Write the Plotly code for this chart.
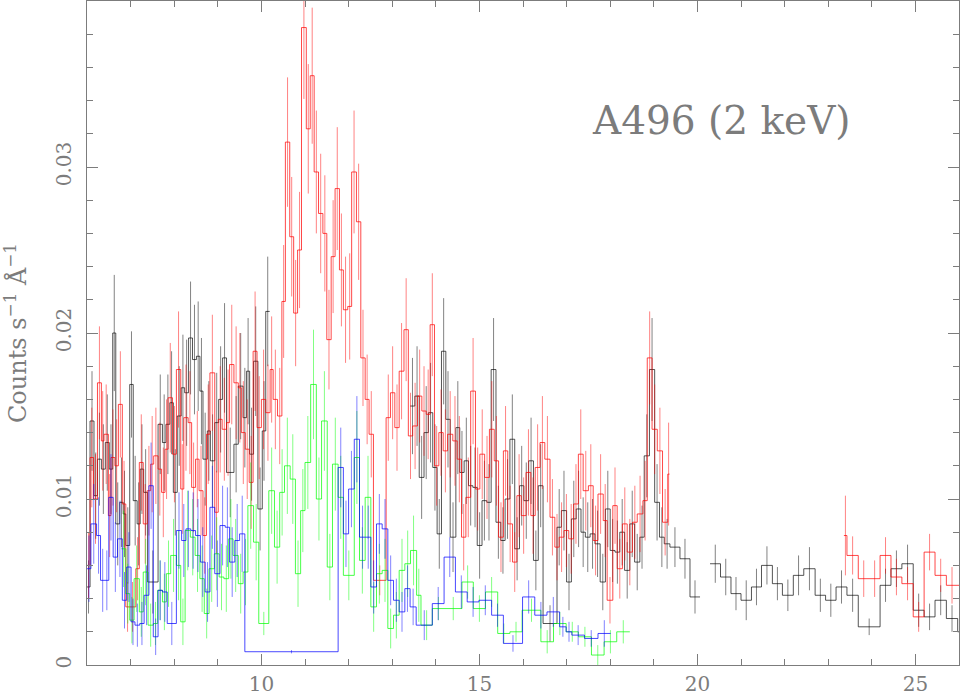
"""A496 (2 keV) spectrum: counts per second per Angstrom, four instruments."""
import plotly.graph_objects as go

black_edges = [
    6.00, 6.07, 6.16, 6.24, 6.33, 6.42, 6.51, 6.59, 6.66, 6.75, 6.83, 6.89, 6.98, 7.06, 7.15, 7.22, 7.30, 7.39, 7.63,
    7.73, 7.81, 7.90, 7.98, 8.07, 8.16, 8.24, 8.33, 8.42, 8.51, 8.59, 8.66, 8.76, 8.83, 8.93, 9.02, 9.11, 9.20,
    9.37, 9.47, 9.58, 9.66, 9.73, 9.82, 9.92, 10.02, 10.10, 10.19,
    13.41,
    13.52, 13.62, 13.73, 13.83, 13.93, 14.03, 14.13, 14.23, 14.33,
    14.46, 14.55, 14.65, 14.75, 14.85, 14.95, 15.06, 15.17, 15.27, 15.38,
    15.49, 15.59, 15.70, 15.81, 15.92, 16.02, 16.13, 16.24, 16.35, 16.46,
    16.78, 16.88, 17.00, 17.11, 17.22, 17.33, 17.43, 17.54, 17.65, 17.77,
    17.89, 18.00, 18.11, 18.22, 18.33, 18.45, 18.56, 18.68, 18.78, 18.90,
    19.02, 19.13, 19.24, 19.37, 19.60, 19.83, 20.06,
    20.29,
    20.53, 20.77, 21.00, 21.24, 21.47, 21.72, 21.95, 22.20, 22.44, 22.70,
    22.94, 23.18, 23.43, 23.69, 24.19, 24.44, 24.69, 24.95, 25.20, 25.45,
    25.71, 25.97, 26.2,
]
black_vals = [
    .0047, .0147, .0102, .0124, .0118, .0134, .0118, .0200, .0085, .0098, .0091, .0072, .0169, .0099, .0085, .0118, .0104, .0050,
    .0145, .0134, .0145, .0158, .0104, .0150, .0167, .0164, .0197, .0184, .0186, .0165, .0124, .0141, .0123, .0146, .0160, .0185,
    .0116, .0133, .0168, .0149, .0177, .0127, .0183, .0094, .0141, .0213,
    None,
    .0156, .0162, .0113, .0140, .0152, .0119, .0079, .0189, .0148,
    .0077, .0143, .0116, .0123, .0108, .0107, .0072, .0099, .0098, .0178,
    .0086, .0075, .0100, .0136, .0070, .0108, .0099, .0123, .0063, .0108,
    .0025, .0083, .0093, .0050, .0088, .0094, .0080, .0077, .0079, .0073,
    .0050, .0094, .0069, .0068, .0080, .0057, .0085, .0062, .0077, .0126,
    .0178, .0098, .0077, .0073, .0071, .0064, .0041,
    None,
    .0061, .0053, .0043, .0039, .0047, .0060, .0049, .0042, .0054, .0058,
    .0042, .0039, .0047, .0042, .0023, .0048, .0058, .0061, .0033, .0029,
    .0039, .0028, .0020,
]
black_errs = [
    .0016, .0030, .0026, .0028, .0027, .0029, .0027, .0035, .0025, .0027, .0026, .0023, .0032, .0027, .0025, .0027, .0026, .0019,
    .0030, .0029, .0030, .0031, .0026, .0030, .0032, .0032, .0034, .0033, .0033, .0032, .0028, .0030, .0028, .0030, .0032, .0033,
    .0027, .0029, .0032, .0030, .0032, .0028, .0033, .0025, .0030, .0033,
    None,
    .0029, .0030, .0025, .0028, .0030, .0026, .0021, .0032, .0029,
    .0021, .0028, .0025, .0026, .0024, .0024, .0020, .0024, .0023, .0031,
    .0022, .0020, .0024, .0027, .0019, .0024, .0023, .0026, .0018, .0025,
    .0011, .0023, .0024, .0017, .0023, .0023, .0021, .0021, .0021, .0020,
    .0017, .0023, .0019, .0019, .0020, .0017, .0020, .0017, .0019, .0025,
    .0031, .0023, .0018, .0015, .0012, .0012, .0010,
    None,
    .00115, .0011, .0010, .0012, .0011, .00115, .0010, .00095, .0012, .0013,
    .0010, .0010, .0010, .0010, .0005, .0010, .0011, .00115, .0010, .0008,
    .0009, .0008, .0008,
]

red_edges = [
    6.00, 6.07, 6.15, 6.24, 6.33, 6.39, 6.49, 6.55, 6.64, 6.72, 6.81, 6.89, 6.97, 7.12, 7.20, 7.29, 7.38, 7.46, 7.53, 7.63,
    7.71, 7.79, 7.86, 7.96, 8.05, 8.15, 8.22, 8.32, 8.40, 8.49, 8.57, 8.66, 8.74, 8.82, 8.93, 9.01, 9.10, 9.20, 9.27, 9.37,
    9.47, 9.54, 9.63, 9.72, 9.81, 9.90, 10.00,
    10.10, 10.20, 10.27, 10.37, 10.47, 10.55, 10.65, 10.74, 10.83, 10.92,
    11.03, 11.12, 11.21, 11.31, 11.41, 11.50, 11.60, 11.69, 11.79, 11.88,
    11.98, 12.07, 12.18, 12.28, 12.38, 12.47, 12.57, 12.86, 12.96, 13.06,
    13.16, 13.27, 13.37, 13.47, 13.58, 13.68, 13.78, 13.87, 13.97, 14.07,
    14.17, 14.27, 14.39,
    14.49, 14.59, 14.69, 14.80, 14.91, 15.01, 15.12, 15.23, 15.34, 15.44,
    15.55, 15.65, 15.76, 15.86, 15.96, 16.07, 16.18, 16.28, 16.39, 16.50,
    16.62, 16.73, 16.83, 16.94, 17.05, 17.16, 17.27, 17.38, 17.50, 17.61,
    17.72, 17.84, 17.93, 18.06, 18.16, 18.28, 18.39, 18.51, 18.62, 18.75,
    18.85, 18.96, 19.08, 19.20, 19.32, 19.36,
    23.36,
    23.43, 23.69, 23.94, 24.19, 24.44, 24.69, 24.95, 25.20, 25.45, 25.71, 25.97, 26.2,
]
red_vals = [
    .0060, .0125, .0100, .0170, .0135, .0139, .0090, .0125, .0120, .0157,
    .0097, .0035, .0035, .0058, .0122, .0085, .0105, .0121, .0126, .0118,
    .0104, .0130, .0161, .0127, .0178, .0106, .0149, .0146, .0107, .0124,
    .0105, .0078, .0139, .0176, .0092, .0148, .0142, .0146, .0181, .0170,
    .0167, .0140, .0130, .0110, .0189, .0143,
    .0160, .0152, .0178, .0160, .0150, .0219, .0315, .0258, .0212, .0250,
    .0384, .0323, .0355, .0297, .0272, .0260, .0196, .0246, .0287, .0238,
    .0214, .0216, .0297, .0267, .0185, .0160, .0139, .0051, .0149, .0164,
    .0143, .0177, .0202, .0138, .0144, .0162, .0153, .0151, .0205, .0120,
    .0140, .0129, .0139,
    .0135, .0124, .0077, .0101, .0165, .0106, .0127, .0113, .0142, .0123,
    .0077, .0129, .0085, .0062, .0102, .0090, .0116, .0090, .0119, .0134,
    .0124, .0089, .0071, .0077, .0081, .0076, .0097, .0127, .0105, .0108,
    .0075, .0103, .0087, .0039, .0096, .0058, .0085, .0068, .0086, .0091,
    .0099, .0185, .0142, .0129, .0086, .0115,
    None,
    .0078, .0066, .0052, .0052, .0066, .0053, .0049, .0029, .0068, .0054, .0048, .0048,
]
red_errs = [
    .0020, .0030, .0027, .0034, .0030, .0030, .0025, .0029, .0028, .0032,
    .0026, .0015, .0015, .0019, .0029, .0024, .0027, .0029, .0029, .0028,
    .0027, .0030, .0033, .0029, .0035, .0027, .0032, .0031, .0027, .0029,
    .0027, .0023, .0030, .0035, .0025, .0032, .0031, .0032, .0036, .0034,
    .0033, .0031, .0030, .0028, .0036, .0031,
    .0030, .0029, .0032, .0030, .0029, .0034, .0039, .0036, .0032, .0035,
    .0043, .0039, .0041, .0037, .0036, .0035, .0030, .0034, .0037, .0034,
    .0032, .0032, .0037, .0035, .0029, .0027, .0026, .0009, .0026, .0028,
    .0026, .0029, .0031, .0026, .0026, .0028, .0027, .0027, .0031, .0024,
    .0026, .0025, .0026,
    .0027, .0026, .0020, .0024, .0032, .0025, .0027, .0025, .0029, .0027,
    .0021, .0027, .0023, .0018, .0025, .0023, .0026, .0023, .0026, .0028,
    .0026, .0023, .0020, .0021, .0022, .0021, .0024, .0027, .0024, .0025,
    .0021, .0024, .0022, .0014, .0023, .0018, .0022, .0020, .0022, .0023,
    .0024, .0028, .0027, .0026, .0020, .0031,
    None,
    .0024, .00115, .0011, .0011, .0011, .0011, .0010, .0009, .0011, .0010, .0011, .0011,
]

green_edges = [
    6.79, 6.89, 6.98, 7.08, 7.20, 7.29, 7.40, 7.52, 7.62, 7.73, 7.82,
    7.92, 8.05, 8.15, 8.25, 8.37, 8.48, 8.59, 8.69, 8.80, 8.92,
    9.03, 9.14, 9.25, 9.35, 9.47, 9.58, 9.69, 9.82, 9.94, 10.17,
    10.30, 10.42, 10.53, 10.66, 10.78, 10.90, 11.00, 11.13, 11.26, 11.38,
    11.51, 11.63, 11.76, 11.88, 12.13, 12.25, 12.38, 12.51, 12.64, 12.77,
    12.90, 13.03, 13.16, 13.29, 13.42, 13.56, 13.66, 13.92, 14.20, 14.60,
    14.86, 15.14, 15.42, 15.70, 15.98, 16.41, 16.70, 16.99, 17.27, 17.57,
    17.86, 18.15, 18.45,
]
green_vals = [
    .0070, .0043, .0027, .0052, .0032, .0056, .0024, .0025, .0045, .0038,
    .0055, .0066, .0060, .0026, .0081, .0077, .0066, .0052, .0031, .0058,
    .0067, .0053, .0052, .0076, .0066, .0049, .0056, .0096, .0074, .0025,
    .0105, .0071, .0104, .0120, .0112, .0055, .0093, .0122, .0169, .0100,
    .0147, .0059, .0121, .0101, .0054, .0125, .0063, .0101, .0035, .0055,
    .0057, .0022, .0030, .0057, .0061, .0069, .0042, .0024, .0034, .0034,
    .0050, .0034, .0044, .0019, .0020, .0033, .0014, .0025, .0020, .0017,
    .0006, .0014, .0020,
]
green_errs = [
    .0023, .0018, .0014, .0020, .0015, .0020, .0013, .0013, .0018, .0017,
    .0020, .0022, .0021, .0014, .0024, .0023, .0022, .0020, .0015, .0020,
    .0022, .0020, .0020, .0024, .0022, .0018, .0020, .0026, .0023, .0007,
    .0026, .0022, .0026, .0029, .0027, .0020, .0025, .0028, .0033, .0025,
    .0030, .0020, .0028, .0025, .0015, .0028, .0020, .0025, .0015, .0018,
    .0019, .0012, .0014, .0019, .0020, .0021, .0016, .0009, .0007, .0007,
    .0010, .0008, .0009, .0006, .0006, .0007, .0007, .0007, .0006, .0006,
    .0006, .0007, .0007,
]

blue_edges = [
    6.00, 6.09, 6.22, 6.31, 6.41, 6.50, 6.60, 6.70, 6.81, 6.91, 7.01,
    7.10, 7.21, 7.31, 7.42, 7.52, 7.63, 7.73, 7.84, 8.05, 8.17,
    8.27, 8.38, 8.49, 8.60, 8.71, 8.82, 8.93, 9.05, 9.17, 9.27,
    9.39, 9.50, 9.62, 11.76, 11.88, 12.00, 12.13, 12.25, 12.39, 12.51,
    12.64, 12.77, 12.90, 13.03, 13.16, 13.29, 13.41, 13.55, 13.92, 14.19,
    14.45, 14.72, 14.99, 15.28, 15.55, 15.99, 16.27, 16.55, 16.84, 16.99,
    17.12, 17.41, 17.72, 18.01,
]
blue_vals = [
    .0058, .0085, .0078, .0051, .0051, .0101, .0065, .0076, .0039, .0059,
    .0026, .0024, .0025, .0042, .0108, .0017, .0045, .0044, .0025, .0081,
    .0075, .0082, .0081, .0078, .0062, .0044, .0095, .0055, .0084, .0083,
    .0062, .0075, .0079, .0008, .0119, .0079, .0106, .0136, .0077, .0077,
    .0047, .0085, .0082, .0051, .0039, .0032, .0046, .0035, .0024, .0037,
    .0065, .0044, .0038, .0039, .0030, .0013, .0041, .0030, .0032, .0023,
    .0020, .0018, .0016, .0019,
]
blue_errs = [
    .0020, .0024, .0023, .0019, .0018, .0026, .0021, .0023, .0017, .0021,
    .0014, .0013, .0013, .0018, .0026, .0011, .0018, .0018, .0013, .0023,
    .0022, .0023, .0023, .0022, .0021, .0018, .0025, .0020, .0024, .0024,
    .0021, .0022, .0023, .0001, .0024, .0020, .0023, .0026, .0019, .0019,
    .0016, .0018, .0018, .0015, .0013, .0012, .0014, .0011, .0009, .0010,
    .0012, .0010, .0009, .0009, .0007, .0005, .0010, .0008, .0009, .0006,
    .0006, .0006, .0005, .0008,
]

x_ticks = [10, 15, 20, 25]
x_labels = ["10", "15", "20", "25"]
y_ticks = [0, 0.01, 0.02, 0.03]
y_labels = ["0", "0.01", "0.02", "0.03"]

GREY = "#7c7c7c"
FONT = "DejaVu Serif"


def add_spectrum(fig, edges, vals, errs, color, err_color):
    assert len(edges) == len(vals) + 1 == len(errs) + 1
    xs, ys = [], []
    for i, v in enumerate(vals):
        if v is None:
            xs.append(None)
            ys.append(None)
        else:
            xs += [edges[i], edges[i + 1]]
            ys += [v, v]
    fig.add_trace(go.Scatter(x=xs, y=ys, mode="lines", line=dict(color=color, width=0.9)))
    centers = [(edges[i] + edges[i + 1]) / 2 for i in range(len(vals))]
    fig.add_trace(go.Scatter(
        x=centers, y=vals, mode="markers", marker=dict(size=1, opacity=0),
        error_y=dict(type="data", array=errs, color=err_color, thickness=0.9, width=0),
    ))


fig = go.Figure()
add_spectrum(fig, black_edges, black_vals, black_errs, "rgba(0,0,0,0.75)", "rgba(0,0,0,0.55)")
add_spectrum(fig, red_edges, red_vals, red_errs, "rgba(255,0,0,0.8)", "rgba(255,0,0,0.55)")
add_spectrum(fig, green_edges, green_vals, green_errs, "rgba(0,255,0,0.8)", "rgba(0,255,0,0.55)")
add_spectrum(fig, blue_edges, blue_vals, blue_errs, "rgba(0,0,255,0.8)", "rgba(0,0,255,0.55)")

fig.add_annotation(
    x=20.56, y=0.0328, xanchor="center", yanchor="middle", showarrow=False,
    text="A496 (2 keV)", font=dict(family=FONT, size=39, color=GREY),
)

axis_style = dict(
    showgrid=False, zeroline=False, showline=True, linecolor=GREY, linewidth=1,
    mirror="allticks", ticks="inside", ticklen=11, tickcolor=GREY, tickwidth=1,
    tickfont=dict(family=FONT, size=20, color=GREY),
)
fig.update_xaxes(
    range=[6, 26], tickmode="array", tickvals=x_ticks, ticktext=x_labels,
    ticklabelstandoff=1,
    minor=dict(ticks="inside", ticklen=6, tickcolor=GREY, tickwidth=1, dtick=1, tick0=0),
    **axis_style,
)
fig.update_yaxes(
    range=[0, 0.04], tickmode="array", tickvals=y_ticks, ticktext=y_labels, tickangle=-90,
    ticklabelstandoff=7,
    minor=dict(ticks="inside", ticklen=6, tickcolor=GREY, tickwidth=1, dtick=0.002, tick0=0),
    title=dict(
        text="Counts s<sup>\u22121</sup> \u00c5<sup>\u22121</sup>",
        font=dict(family=FONT, size=24, color=GREY), standoff=28,
    ),
    **axis_style,
)
fig.update_layout(
    width=960, height=695, showlegend=False, plot_bgcolor="white", paper_bgcolor="white",
    margin=dict(l=87, r=1, t=1, b=30, autoexpand=False),
)
# page body has a default 8px margin, the frame has to start at the window corner
fig.write_html(
    "out.html",
    config={"displayModeBar": False},
    post_script="document.body.style.margin = '0';",
)
